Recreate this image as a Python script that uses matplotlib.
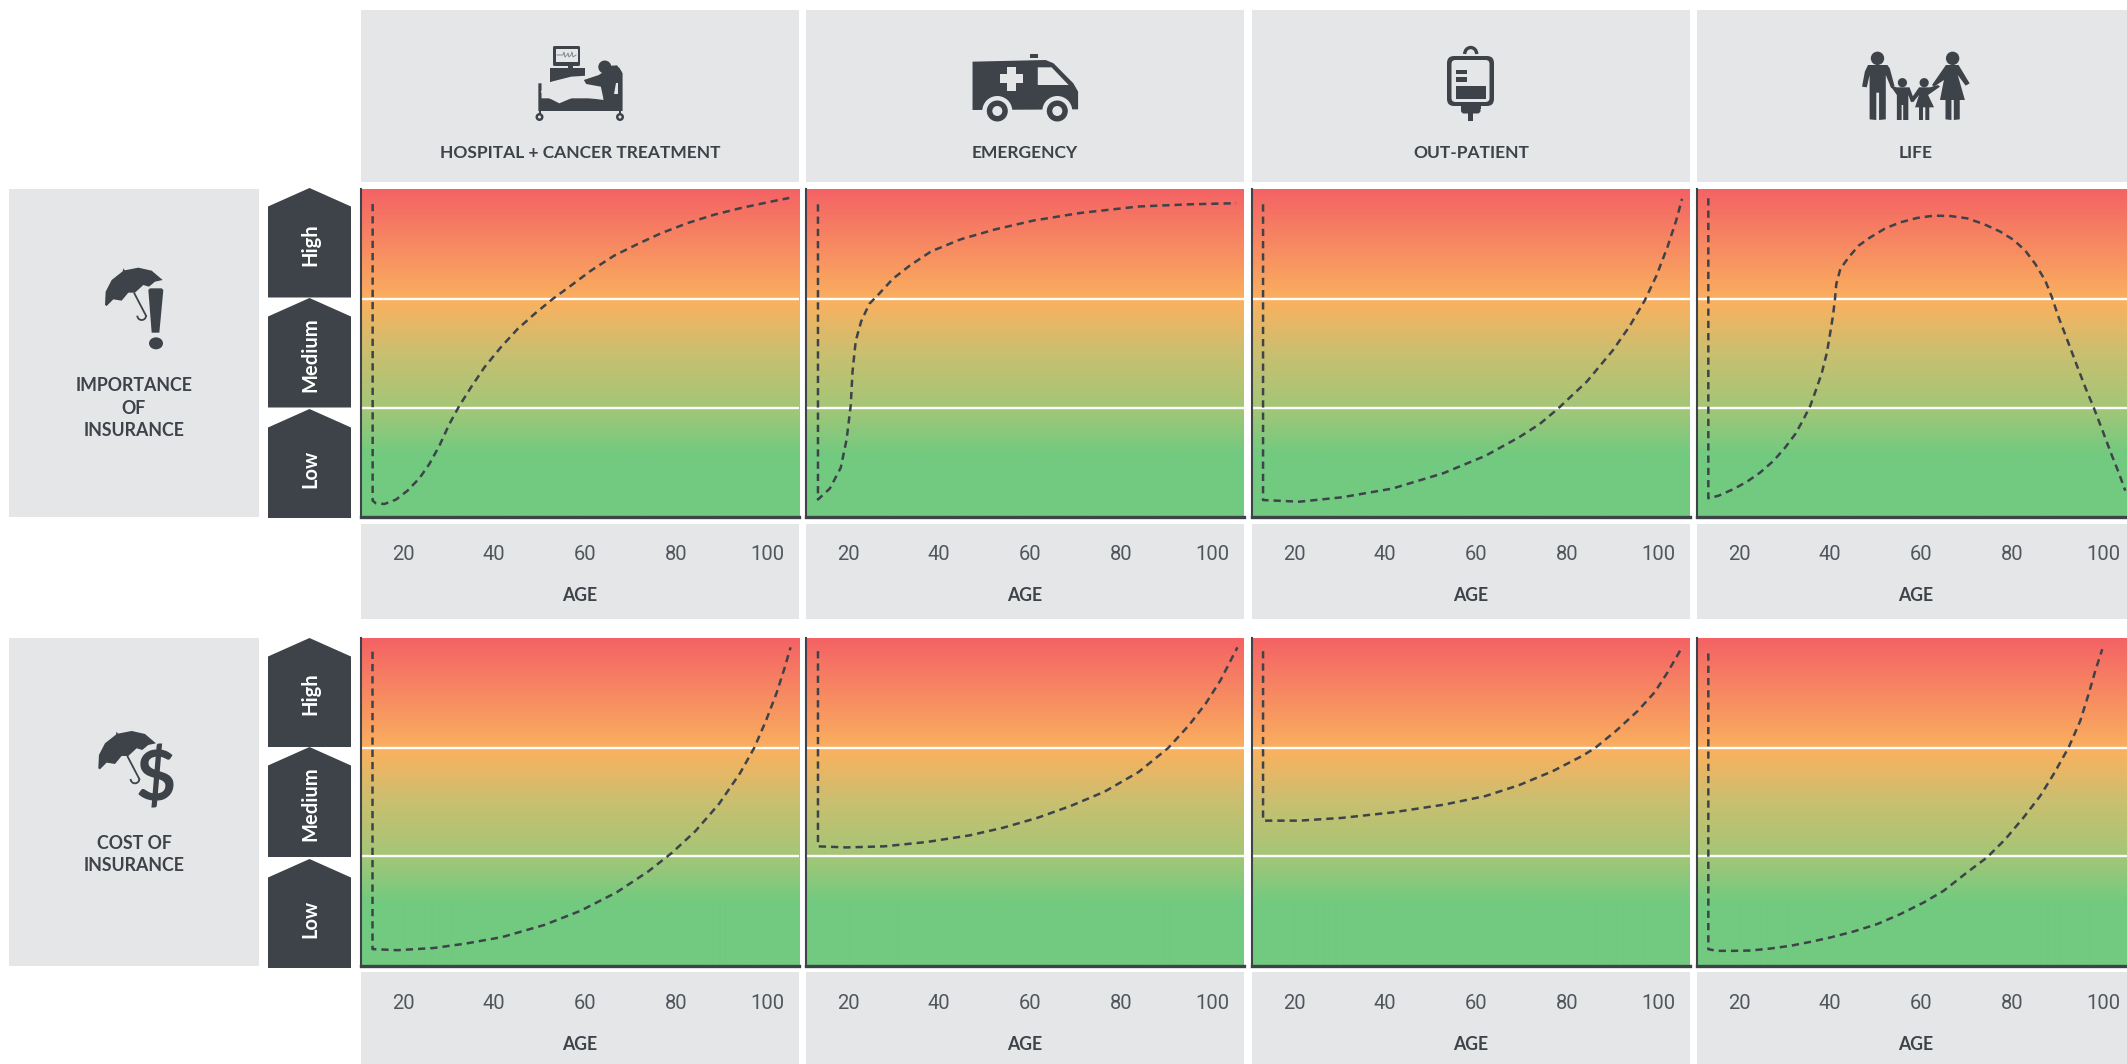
import numpy as np
import matplotlib
matplotlib.use("Agg")
import matplotlib.pyplot as plt
from matplotlib.colors import LinearSegmentedColormap
from matplotlib.patches import Polygon, Ellipse, Circle, FancyBboxPatch, Rectangle, Arc

plt.rcParams['font.family'] = ['Lato', 'DejaVu Sans']

# categories and labels
columns = ['HOSPITAL + CANCER TREATMENT', 'EMERGENCY', 'OUT-PATIENT', 'LIFE']
levels = ['Low', 'Medium', 'High']
tick_ages = [20, 40, 60, 80, 100]
row_titles = ['IMPORTANCE\nOF\nINSURANCE', 'COST OF\nINSURANCE']

# importance of insurance, age / level (0-3)
imp_hosp_age = [13.33, 13.33, 14.07, 15.9, 18.46, 21.0, 23.6, 25.8, 28.0, 30.2, 32.4, 34.95, 37.9, 41.5, 45.2, 48.9, 52.9, 56.9, 61.3, 66.4, 71.6, 76.7, 82.6, 88.4, 94.3, 100.1, 104.9]
imp_hosp_lvl = [2.863, 0.149, 0.125, 0.119, 0.159, 0.241, 0.354, 0.485, 0.652, 0.851, 1.018, 1.186, 1.369, 1.552, 1.72, 1.857, 1.994, 2.116, 2.253, 2.39, 2.497, 2.595, 2.689, 2.765, 2.826, 2.878, 2.918]
imp_emer_age = [13.4, 13.4, 16, 18.4, 19.7, 20.6, 21, 21.7, 22.9, 24.7, 26.8, 29.9, 33.6, 38.3, 44.8, 52.3, 60.6, 70.9, 83.9, 95.1, 105.3]
imp_emer_lvl = [2.86, 0.16, 0.26, 0.45, 0.71, 1.02, 1.33, 1.61, 1.79, 1.95, 2.04, 2.18, 2.3, 2.43, 2.54, 2.63, 2.71, 2.78, 2.84, 2.86, 2.87]
imp_outp_age = [13.2, 13.2, 21.2, 30.5, 41.6, 52.8, 62.1, 69.5, 74, 78, 84.4, 90, 93.7, 97.1, 99.7, 102.1, 104, 105.3]
imp_outp_lvl = [2.86, 0.155, 0.14, 0.18, 0.26, 0.4, 0.56, 0.73, 0.85, 0.99, 1.24, 1.52, 1.74, 1.98, 2.21, 2.47, 2.71, 2.91]
imp_life_age = [13.26, 13.26, 15.53, 18.83, 21.76, 24.69, 27.62, 30.18, 32.38, 34.21, 35.68, 37.0, 38.24, 39.34, 40.07, 40.66, 41.1, 41.39, 42.27, 44.1, 46.3, 48.87, 52.16, 55.46, 59.12, 62.78, 66.45, 70.11, 73.77, 77.44, 80.37, 82.93, 85.13, 87.33, 88.79, 90.26, 92.09, 94.29, 96.12, 97.95, 99.78, 101.98, 103.44, 104.91]
imp_life_lvl = [2.915, 0.171, 0.195, 0.256, 0.323, 0.408, 0.515, 0.637, 0.759, 0.896, 1.018, 1.171, 1.323, 1.506, 1.689, 1.841, 1.994, 2.131, 2.268, 2.375, 2.482, 2.558, 2.64, 2.695, 2.735, 2.756, 2.753, 2.732, 2.68, 2.61, 2.534, 2.436, 2.314, 2.162, 2.009, 1.826, 1.628, 1.384, 1.186, 1.003, 0.805, 0.561, 0.409, 0.241]

# cost of insurance
cost_hosp_age = [13.3, 13.3, 18.8, 26.8, 33.7, 41.8, 51, 59, 67, 73.9, 79.1, 84.3, 89.5, 94.1, 97.2, 99.8, 102.1, 103.8, 105.2]
cost_hosp_lvl = [2.87, 0.15, 0.14, 0.16, 0.2, 0.26, 0.37, 0.5, 0.67, 0.86, 1.03, 1.23, 1.48, 1.76, 1.99, 2.24, 2.49, 2.71, 2.91]
cost_emer_age = [13.4, 13.4, 19.7, 28, 37.4, 46.7, 54.1, 61.6, 69, 76.4, 83.9, 90.4, 95, 98.7, 101.9, 104, 105.6]
cost_emer_lvl = [2.875, 1.09, 1.08, 1.09, 1.13, 1.19, 1.26, 1.35, 1.46, 1.59, 1.77, 1.99, 2.2, 2.4, 2.61, 2.78, 2.91]
cost_outp_age = [13.2, 13.2, 21.2, 30.5, 41.6, 52.8, 62.1, 69.5, 77, 83.5, 86.2, 90.9, 95.6, 99.3, 102.1, 105.3]
cost_outp_lvl = [2.875, 1.325, 1.325, 1.35, 1.4, 1.47, 1.55, 1.65, 1.78, 1.92, 1.99, 2.15, 2.33, 2.5, 2.68, 2.91]
cost_life_age = [13.26, 13.26, 15.17, 18.83, 22.49, 26.89, 31.28, 35.68, 40.07, 45.2, 50.33, 55.46, 60.59, 64.98, 70.11, 74.51, 78.54, 82.56, 86.23, 89.16, 92.46, 95.02, 96.85, 98.32, 99.85]
cost_life_lvl = [2.854, 0.149, 0.134, 0.134, 0.137, 0.155, 0.18, 0.216, 0.256, 0.311, 0.378, 0.47, 0.576, 0.683, 0.851, 0.988, 1.155, 1.354, 1.552, 1.75, 1.994, 2.238, 2.482, 2.695, 2.893]

curves = [
    [(imp_hosp_age, imp_hosp_lvl), (imp_emer_age, imp_emer_lvl), (imp_outp_age, imp_outp_lvl), (imp_life_age, imp_life_lvl)],
    [(cost_hosp_age, cost_hosp_lvl), (cost_emer_age, cost_emer_lvl), (cost_outp_age, cost_outp_lvl), (cost_life_age, cost_life_lvl)],
]

W, H = 2127, 1064
DARK = '#3D4349'
GREY = '#E5E6E8'

# layout in pixels
col_left = [361, 806, 1252, 1697]
col_w = 438
row_top = [189, 637.5]
row_h = 328

fig = plt.figure(figsize=(W / 100, H / 100), dpi=100, facecolor='white')

# background layer in pixel coordinates, for boxes and icons
bg = fig.add_axes([0, 0, 1, 1], zorder=0)
bg.set_xlim(0, W)
bg.set_ylim(H, 0)
bg.set_axis_off()


def box(x0, y0, x1, y1, color=GREY):
    bg.add_patch(Rectangle((x0, y0), x1 - x0, y1 - y0, fc=color, ec='none'))


def rounded(x0, y0, x1, y1, r, color=DARK):
    bg.add_patch(FancyBboxPatch((x0 + r, y0 + r), x1 - x0 - 2 * r, y1 - y0 - 2 * r,
                                boxstyle='round,pad=%f' % r, fc=color, ec='none'))


# column headers and age boxes
for i, x in enumerate(col_left):
    box(x, 10, x + col_w, 182)
    box(x, 524, x + col_w, 619)
    box(x, 972, x + col_w, 1064)
    bg.text(x + col_w / 2, 153, columns[i], ha='center', va='center', fontsize=12.5, fontweight='bold', color=DARK)

# left boxes
box(9, 189, 259, 517)
box(9, 638, 259, 966)
bg.text(134, 408, row_titles[0], ha='center', va='center', fontsize=12.8, fontweight='bold', color=DARK, linespacing=1.42)
bg.text(134, 854.5, row_titles[1], ha='center', va='center', fontsize=12.8, fontweight='bold', color=DARK, linespacing=1.42)

# level arrows
arrow_tops = [[409, 298, 188], [859, 747, 638]]
arrow_bottoms = [[518, 407.5, 297.5], [968, 857, 747]]
arrow_text = [[469, 354.5, 245], [918.5, 804, 694]]
for r in range(2):
    for k in range(3):
        t, b = arrow_tops[r][k], arrow_bottoms[r][k]
        bg.add_patch(Polygon([(268, b), (268, t + 18.5), (309.5, t), (351, t + 18.5), (351, b)], fc=DARK, ec='none'))
        bg.text(310, arrow_text[r][k], levels[k], rotation=90, ha='center', va='center',
                fontsize=14.5, fontweight='bold', color='white')


# icon helper: points are taken from zoomed crops, (ox, oy) crop origin, (sx, sy) crop scale
def poly(pts, ox, oy, sx, sy, color=DARK):
    bg.add_patch(Polygon([(ox + p[0] / sx, oy + p[1] / sy) for p in pts], closed=True, fc=color, ec='none', joinstyle='round'))


# hospital bed
z = (500, 30, 2.529, 3)
rounded(553, 46, 580, 66, 1.5)
box(555.5, 48.5, 577.5, 62, GREY)
bg.plot([557, 563, 564, 565, 567, 568, 569, 571, 572, 573, 576], [55, 55, 52, 57, 55, 53, 57, 55, 52, 57, 55], color='#777b80', lw=0.6)
box(568, 66, 573, 69, DARK)
box(550, 68, 585, 82, DARK)
poly([(97, 160), (105, 160), (105, 205), (300, 205), (300, 110), (310, 130), (310, 243), (97, 243)], *z)
for cx in (539.5, 620):
    box(cx - 1, 110, cx + 1, 114, DARK)
    bg.add_patch(Circle((cx, 117), 4, fc=DARK, ec='none'))
    bg.add_patch(Circle((cx, 117), 1.5, fc=GREY, ec='none'))
poly([(103, 185), (130, 155), (180, 140), (245, 135), (255, 170), (262, 210), (230, 205), (190, 200), (150, 220), (125, 205), (110, 195)], *z, color=GREY)
poly([(272, 108), (296, 106), (307, 125), (307, 208), (262, 208), (255, 170), (218, 162), (212, 150), (250, 135), (262, 125)], *z)
poly([(294, 160), (299, 160), (299, 192), (288, 192)], *z, color=GREY)
bg.add_patch(Ellipse((604.8, 67), 13, 13, fc=DARK, ec='none'))

# ambulance
poly([(1195, 95), (1380, 90), (1400, 100), (1450, 160), (1462, 185), (1462, 238), (1195, 240)], *z)
poly([(1340, 72), (1360, 72), (1360, 85), (1340, 85)], *z)
poly([(1360, 112), (1395, 112), (1438, 165), (1360, 165)], *z, color=GREY)
poly([(1282, 112), (1304, 112), (1304, 182), (1282, 182)], *z, color=GREY)
poly([(1265, 133), (1322, 133), (1322, 160), (1265, 160)], *z, color=GREY)
for cx in (997.3, 1057.3):
    bg.add_patch(Circle((cx, 111), 15, fc=GREY, ec='none'))
    bg.add_patch(Circle((cx, 111), 10.5, fc=DARK, ec='none', zorder=3))
    bg.add_patch(Circle((cx, 111), 5, fc=GREY, ec='none', zorder=4))

# drip bag
rounded(1447, 56, 1494, 106, 7)
rounded(1451.5, 60, 1489.5, 102, 4, GREY)
box(1455.5, 85.5, 1485.5, 98.7, DARK)
box(1455.5, 70, 1467, 74, DARK)
box(1455.5, 77.3, 1467, 81.7, DARK)
rounded(1461, 106, 1480.5, 113.5, 3)
box(1461, 105, 1480.5, 109, DARK)
box(1468, 113, 1473, 121, DARK)
bg.add_patch(Arc((1470.7, 54), 12, 13, theta1=180, theta2=360, ec=DARK, lw=2.4))

# family
z = (1420, 30, 2.529, 3)
poly([(1133, 105), (1182, 105), (1188, 115), (1200, 168), (1192, 175), (1178, 135), (1178, 268), (1161, 270), (1161, 188), (1154, 188), (1154, 270), (1137, 268), (1137, 135), (1130, 172), (1118, 170), (1125, 125)], *z)
poly([(1330, 105), (1362, 105), (1390, 160), (1380, 167), (1360, 135), (1378, 210), (1365, 210), (1365, 268), (1350, 270), (1350, 210), (1344, 210), (1344, 270), (1329, 268), (1329, 210), (1315, 210), (1325, 150), (1300, 170), (1295, 165)], *z)
poly([(1188, 165), (1205, 172), (1238, 172), (1250, 210), (1242, 217), (1235, 195), (1235, 270), (1222, 270), (1222, 225), (1218, 225), (1218, 270), (1206, 270), (1206, 195)], *z)
poly([(1262, 172), (1290, 172), (1310, 165), (1315, 170), (1285, 195), (1300, 232), (1288, 232), (1288, 270), (1278, 270), (1278, 232), (1272, 232), (1272, 270), (1262, 270), (1262, 232), (1252, 232), (1262, 195), (1247, 217), (1240, 210)], *z)
for hx, hr in [(1157, 6.7), (1347, 6.7), (1220, 4.6), (1275, 4.6)]:
    hy = 85 if hr > 5 else 158
    bg.add_patch(Circle((1420 + hx / 2.529, 30 + hy / 3), hr, fc=DARK, ec='none'))


# umbrella used on both row boxes
def umbrella(ox, oy):
    z = (ox, oy, 3, 3)
    poly([(75, 165), (77, 125), (95, 90), (128, 64), (130, 55), (134, 61), (175, 53), (215, 62), (248, 90), (225, 95), (207, 110), (190, 105), (165, 128), (145, 128), (125, 152), (100, 148), (80, 168)], *z)
    bg.plot([ox + 163 / 3, ox + 198 / 3], [oy + 130 / 3, oy + 197 / 3], color=DARK, lw=1.3)
    bg.add_patch(Arc((ox + 185 / 3, oy + 197 / 3), 8.7, 8.7, theta1=0, theta2=180, ec=DARK, lw=1.3))


umbrella(80, 250)
poly([(205, 120), (210, 115), (245, 115), (250, 120), (238, 248), (215, 248)], 80, 250, 3, 3)
bg.add_patch(Ellipse((80 + 228 / 3, 250 + 280 / 3), 14, 12, fc=DARK, ec='none'))
umbrella(73.3, 713.3)
bg.text(156, 781, '$', ha='center', va='center', fontsize=50, fontweight='bold', color=DARK)

# gradient behind the curves: green at the bottom, orange at the upper line, red on top
cmap = LinearSegmentedColormap.from_list('risk', [
    (0.0, '#72CA80'), (0.19, '#72CA80'), (0.33, '#A4C677'), (0.5, '#CABF70'),
    (0.655, '#FAB15F'), (1.0, '#F46265')])
gradient = np.linspace(1, 0, 328).reshape(-1, 1)

for r in range(2):
    for c in range(4):
        ax = fig.add_axes([col_left[c] / W, 1 - (row_top[r] + row_h) / H, col_w / W, row_h / H], zorder=2)
        ax.imshow(gradient, cmap=cmap, vmin=0, vmax=1, aspect='auto', extent=[10.77, 107.05, 0, 3], interpolation='bilinear', zorder=0)
        ax.axhline(1, color='white', lw=1.7, zorder=1)
        ax.axhline(1.99, color='white', lw=1.7, zorder=1)
        age, lvl = curves[r][c]
        ax.plot(age, lvl, color=DARK, lw=1.8, dashes=(2.9, 2.0), zorder=2)
        ax.set_xlim(10.77, 107.05)
        ax.set_ylim(0, 3)
        ax.set_yticks([])
        ax.set_xticks(tick_ages)
        ax.tick_params(axis='x', length=0, pad=20.5, labelsize=14.5, labelcolor='#50565c')
        for lab in ax.get_xticklabels():
            lab.set_family(['Roboto', 'DejaVu Sans'])
            lab.set_fontweight('normal')
        ax.set_xlabel('AGE', fontsize=12.7, fontweight='bold', color=DARK)
        ax.xaxis.set_label_coords(0.5, -70 / 328)
        ax.spines['top'].set_visible(False)
        ax.spines['right'].set_visible(False)
        ax.spines['left'].set_color(DARK)
        ax.spines['left'].set_linewidth(1.5)
        ax.spines['bottom'].set_color(DARK)
        ax.spines['bottom'].set_linewidth(2.4)

fig.savefig('out.png', dpi=100)
